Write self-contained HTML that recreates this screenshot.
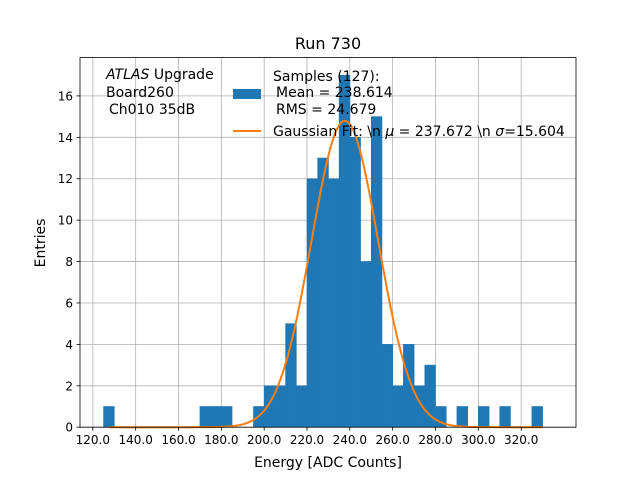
<!DOCTYPE html>
<html><head><meta charset="utf-8"><style>
body{margin:0;background:#fff}
svg text{font-family:"DejaVu Sans","Liberation Sans",sans-serif;fill:#000}
</style></head><body>
<svg id="chart" width="640" height="480" viewBox="0 0 640 480">
<rect width="640" height="480" fill="#fff"/>
<g id="grid"></g><g id="bars"></g><g id="fit"></g><g id="axes"></g>
<text x="328" y="49" font-size="16" text-anchor="middle">Run 730</text>
<text x="328" y="467" font-size="14" text-anchor="middle">Energy [ADC Counts]</text>
<text transform="translate(45,243) rotate(-90)" font-size="14" text-anchor="middle">Entries</text>
<g font-size="14">
<text x="106" y="79"><tspan font-style="italic">ATLAS</tspan> Upgrade</text>
<text x="106" y="97"> Board260</text>
<text x="109" y="114">Ch010 35dB</text>
</g>
<g font-size="14">
<rect x="233" y="89" width="28" height="10" fill="#1f77b4"/>
<text x="273" y="81">Samples (127):</text>
<text x="276" y="97">Mean = 238.614</text>
<text x="276" y="114">RMS = 24.679</text>
<line x1="233" y1="131" x2="261" y2="131" stroke="#ff7f0e" stroke-width="2"/>
<text x="273" y="136">Gaussian Fit: \n <tspan font-style="italic">μ</tspan> = 237.672 \n <tspan font-style="italic">σ</tspan>=15.604</text>
</g>
</svg>
<script>
const binEdgesLow = [125,170,175,180,195,200,205,210,215,220,225,230,235,240,245,250,255,260,265,270,275,280,290,300,310,325];
const binCounts   = [1,1,1,1,1,2,2,5,2,12,13,12,17,14,8,15,4,2,4,2,3,1,1,1,1,1];
const binWidth = 5;
const fitMu = 237.672, fitSigma = 15.604, fitAmp = 14.8, fitStart = 127.5, fitEnd = 330;
const xTicks = [120,140,160,180,200,220,240,260,280,300,320];
const yTicks = [0,2,4,6,8,10,12,14,16];
const xMin = 114, xMax = 345.6, yMin = 0, yMax = 17.85;
const L=80,R=576,T=57.6,B=427.2;
const sx=v=>L+(v-xMin)/(xMax-xMin)*(R-L);
const sy=v=>B-(v-yMin)/(yMax-yMin)*(B-T);
const NS="http://www.w3.org/2000/svg";
function mk(tag,attrs,parent){const e=document.createElementNS(NS,tag);for(const k in attrs)e.setAttribute(k,attrs[k]);document.getElementById(parent).appendChild(e);return e;}
xTicks.forEach(t=>{
  const g=mk('line',{x1:sx(t),x2:sx(t),y1:T,y2:B,stroke:'#b0b0b0','stroke-width':0.8},'grid');
  
  
  const k=mk('line',{x1:sx(t),x2:sx(t),y1:B,y2:B+3.5,stroke:'#000','stroke-width':0.8},'axes');
  
  
  const l=mk('text',{x:sx(t),y:B+17,'font-size':12,'text-anchor':'middle'},'axes');
  l.textContent=t.toFixed(1);
  
  
});
yTicks.forEach(t=>{
  const g=mk('line',{x1:L,x2:R,y1:sy(t),y2:sy(t),stroke:'#b0b0b0','stroke-width':0.8},'grid');
  
  
  const k=mk('line',{x1:L-3.5,x2:L,y1:sy(t),y2:sy(t),stroke:'#000','stroke-width':0.8},'axes');
  
  
  const l=mk('text',{x:L-7,y:sy(t)+4.5,'font-size':12,'text-anchor':'end'},'axes');
  l.textContent=t;
  
  
});
binEdgesLow.forEach((e,i)=>{
  const x0=sx(e),x1=sx(e+binWidth);
  const r=mk('rect',{x:x0,y:sy(binCounts[i]),width:x1-x0,height:sy(0)-sy(binCounts[i]),fill:'#1f77b4',stroke:'#1f77b4','stroke-width':0.6},'bars');
  
  
});
let d='';
for(let i=0;i<=300;i++){const v=fitStart+(fitEnd-fitStart)*i/300;const y=fitAmp*Math.exp(-0.5*((v-fitMu)/fitSigma)**2);d+=(i?'L':'M')+sx(v).toFixed(2)+','+sy(y).toFixed(2);}
const p=mk('path',{d:d,fill:'none',stroke:'#ff7f0e','stroke-width':2},'fit');


const f=mk('rect',{x:L,y:T,width:R-L,height:B-T,fill:'none',stroke:'#000','stroke-width':0.8},'axes');


</script>
</body></html>
